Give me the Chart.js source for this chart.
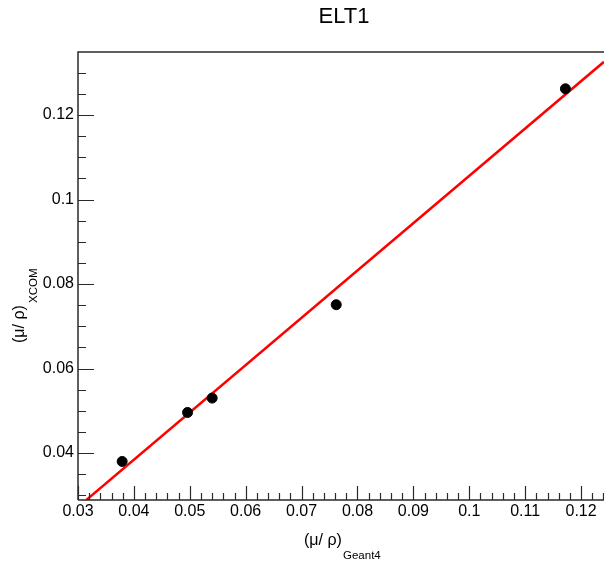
<!DOCTYPE html>
<html>
<head>
<meta charset="utf-8">
<script src="https://cdn.jsdelivr.net/npm/chart.js@4/dist/chart.umd.min.js"></script>
<style>
  html, body { margin: 0; padding: 0; background: #fff; }
  #wrap { width: 604px; height: 562px; }
</style>
</head>
<body>
<div id="wrap"><canvas id="chartELT1" width="604" height="562"></canvas></div>
<script>
// measured points: (mu/rho) Geant4 vs (mu/rho) XCOM
const geantVals = [0.0379, 0.0496, 0.0540, 0.0762, 0.1172];
const xcomVals  = [0.0380, 0.0496, 0.0530, 0.0751, 0.1262];

// linear fit, read at the two ends of the frame
const fitX = [0.0315, 0.1241];
const fitY = [0.0289, 0.1326];

const xTicks = [0.03, 0.04, 0.05, 0.06, 0.07, 0.08, 0.09, 0.1, 0.11, 0.12];
const yTicks = [0.04, 0.06, 0.08, 0.1, 0.12];
const xMinor = 0.002;
const yMinor = 0.005;

const FONT = '"Liberation Sans", Arial, Helvetica, sans-serif';
const MAIN = '(\u03bc/ \u03c1)';

function fmt(v){ return String(Number(v.toFixed(3))); }

// ROOT style frame: ticks drawn inside, titles with subscripts
const rootFrame = {
  id: 'rootFrame',
  afterDraw(chart){
    const ctx = chart.ctx;
    const a = chart.chartArea;
    const xs = chart.scales.x, ys = chart.scales.y;
    ctx.save();
    ctx.strokeStyle = '#2a2a2a';
    ctx.lineWidth = 1.5;
    ctx.beginPath();
    ctx.moveTo(a.left, a.bottom); ctx.lineTo(a.left, a.top); ctx.lineTo(a.right, a.top);
    ctx.moveTo(a.left, a.bottom); ctx.lineTo(a.right, a.bottom);
    ctx.stroke();

    ctx.lineWidth = 1.2;
    ctx.beginPath();
    for(let i = 0; ; i++){
      const v = xs.min + i * xMinor;
      if(v > xs.max + 1e-9) break;
      const px = Math.round(xs.getPixelForValue(v)) + 0.5;
      const major = i % 5 === 0;
      ctx.moveTo(px, a.bottom); ctx.lineTo(px, a.bottom - (major ? 14 : 7));
    }
    const y0 = Math.ceil(ys.min / yMinor) * yMinor;
    for(let i = 0; ; i++){
      const v = y0 + i * yMinor;
      if(v > ys.max + 1e-9) break;
      const py = Math.round(ys.getPixelForValue(v)) + 0.5;
      const major = Math.abs(Math.round(v * 50) - v * 50) < 1e-6;
      ctx.moveTo(a.left, py); ctx.lineTo(a.left + (major ? 16 : 8), py);
    }
    ctx.stroke();

    ctx.fillStyle = '#000';
    ctx.textBaseline = 'alphabetic';
    // title
    ctx.font = '22px ' + FONT;
    ctx.textAlign = 'center';
    ctx.fillText('ELT1', 344, 23);

    // x title
    ctx.textAlign = 'left';
    ctx.font = '16px ' + FONT;
    ctx.fillText(MAIN, 304, 545);
    ctx.font = '11.5px ' + FONT;
    ctx.fillText('Geant4', 343, 559);

    // y title
    ctx.translate(24, 343);
    ctx.rotate(-Math.PI / 2);
    ctx.font = '16px ' + FONT;
    ctx.fillText(MAIN, 0, 0);
    ctx.font = '11.5px ' + FONT;
    ctx.fillText('XCOM', 40, 13);
    ctx.restore();
  }
};

const cfg = {
  type: 'scatter',
  data: {
    datasets: [
      {
        label: 'points',
        data: geantVals.map((x, i) => ({ x: x, y: xcomVals[i] })),
        backgroundColor: '#000',
        borderColor: '#000',
        pointRadius: 5,
        pointHoverRadius: 5,
        order: 0
      },
      {
        label: 'fit',
        data: fitX.map((x, i) => ({ x: x, y: fitY[i] })),
        showLine: true,
        borderColor: '#ff0000',
        borderWidth: 2.5,
        pointRadius: 0,
        order: 1
      }
    ]
  },
  options: {
    responsive: false,
    animation: false,
    layout: { autoPadding: false, padding: { top: 52, right: 0, bottom: 0, left: 0 } },
    plugins: { legend: { display: false }, tooltip: { enabled: false } },
    scales: {
      x: {
        type: 'linear',
        min: 0.03, max: 0.1241,
        afterFit(s){ s.height = 62; s.paddingLeft = 0; s.paddingRight = 0; },
        afterBuildTicks(s){ s.ticks = xTicks.map(v => ({ value: v })); },
        grid: { display: false, drawTicks: false },
        border: { display: false },
        ticks: { padding: 2, color: '#000', font: { family: FONT, size: 16 }, maxRotation: 0, autoSkip: false, callback: v => fmt(v) }
      },
      y: {
        type: 'linear',
        min: 0.02888, max: 0.13491,
        afterFit(s){ s.width = 78; s.paddingTop = 0; s.paddingBottom = 0; },
        afterBuildTicks(s){ s.ticks = yTicks.map(v => ({ value: v })); },
        grid: { display: false, drawTicks: false },
        border: { display: false },
        ticks: { padding: 4, color: '#000', font: { family: FONT, size: 16 }, autoSkip: false, callback: v => fmt(v) }
      }
    }
  },
  plugins: [rootFrame]
};

new Chart(document.getElementById('chartELT1').getContext('2d'), cfg);
</script>
</body>
</html>
